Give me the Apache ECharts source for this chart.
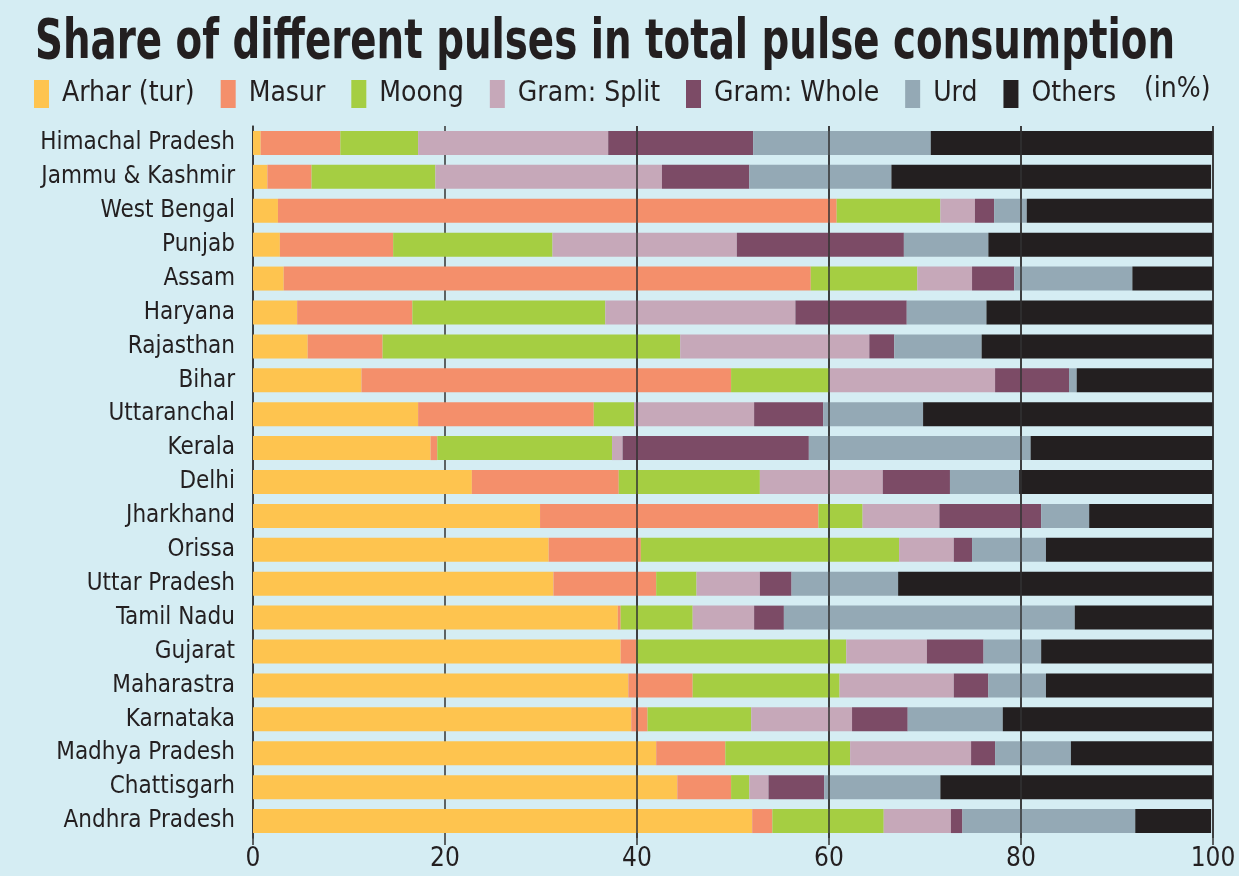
<!DOCTYPE html>
<html>
<head>
<meta charset="utf-8">
<script src="https://cdn.jsdelivr.net/npm/echarts@6/dist/echarts.min.js"></script>
<style>
  html, body { margin: 0; padding: 0; background: #d5edf3; }
  #chart { width: 1239px; height: 876px; }
</style>
</head>
<body>
<div id="chart"></div>
<script>
    // states, top to bottom
    var states = ['Himachal Pradesh', 'Jammu & Kashmir', 'West Bengal', 'Punjab', 'Assam', 'Haryana',
        'Rajasthan', 'Bihar', 'Uttaranchal', 'Kerala', 'Delhi', 'Jharkhand', 'Orissa', 'Uttar Pradesh',
        'Tamil Nadu', 'Gujarat', 'Maharastra', 'Karnataka', 'Madhya Pradesh', 'Chattisgarh', 'Andhra Pradesh'];

    // shares in %
    var arhar     = [0.8, 1.5, 2.6, 2.8, 3.2, 4.6, 5.7, 11.3, 17.2, 18.5, 22.8, 29.9, 30.8, 31.3, 38.0, 38.3, 39.1, 39.4, 42.0, 44.2, 52.0];
    var masur     = [8.3, 4.6, 58.2, 11.8, 54.9, 12.0, 7.8, 38.5, 18.3, 0.7, 15.3, 29.0, 9.6, 10.7, 0.3, 1.6, 6.7, 1.7, 7.2, 5.6, 2.1];
    var moong     = [8.1, 12.9, 10.8, 16.6, 11.1, 20.1, 31.0, 10.2, 4.2, 18.2, 14.7, 4.6, 26.9, 4.2, 7.5, 21.9, 15.3, 10.8, 13.0, 1.9, 11.6];
    var gramSplit = [19.8, 23.6, 3.6, 19.2, 5.7, 19.8, 19.7, 17.3, 12.5, 1.1, 12.8, 8.0, 5.7, 6.6, 6.4, 8.4, 11.9, 10.5, 12.6, 2.0, 7.0];
    var gramWhole = [15.1, 9.1, 2.0, 17.4, 4.4, 11.6, 2.6, 7.7, 7.2, 19.4, 7.0, 10.6, 1.9, 3.3, 3.1, 5.9, 3.6, 5.8, 2.5, 5.8, 1.2];
    var urd       = [18.5, 14.8, 3.4, 8.8, 12.3, 8.3, 9.1, 0.8, 10.4, 23.1, 7.2, 5.0, 7.7, 11.1, 30.3, 6.0, 6.0, 9.9, 7.9, 12.1, 18.0];
    var others    = [29.4, 33.3, 19.4, 23.4, 8.4, 23.6, 24.1, 14.2, 30.2, 19.0, 20.2, 12.9, 17.4, 32.8, 14.4, 17.9, 17.4, 21.9, 14.8, 28.4, 7.9];

    var names  = ['Arhar (tur)', 'Masur', 'Moong', 'Gram: Split', 'Gram: Whole', 'Urd', 'Others'];
    var colors = ['#fec44f', '#f48f6b', '#a5ce42', '#c6a8b9', '#7c4b66', '#94a9b5', '#231f20'];
    var values = [arhar, masur, moong, gramSplit, gramWhole, urd, others];

    var font = '"DejaVu Sans Condensed", "Liberation Sans", sans-serif';
    var ink = '#231f20';

    // title is a squeezed heavy face, fit it to the width of the original
    var titleText = 'Share of different pulses in total pulse consumption';
    var titleFont = 'bold 56px ' + font;
    var ctx = document.createElement('canvas').getContext('2d');
    ctx.font = titleFont;
    var titleScale = 1140 / ctx.measureText(titleText).width;

    var series = names.map(function (n, i) {
        var s = {
            name: n,
            type: 'bar',
            stack: 'total',
            barWidth: 24,
            data: values[i],
            itemStyle: { color: colors[i] },
            emphasis: { disabled: true }
        };
        if (i === names.length - 1) {
            // these gridlines sit on top of the bars
            s.markLine = {
                silent: true,
                symbol: ['none', 'none'],
                label: { show: false },
                lineStyle: { color: '#333', type: 'solid', width: 1.5 },
                data: [{ xAxis: 40 }, { xAxis: 60 }, { xAxis: 80 }, { xAxis: 100 }]
            };
        }
        return s;
    });

    var myChart = echarts.init(document.getElementById('chart'));
    myChart.setOption({
        backgroundColor: '#d5edf3',
        animation: false,
        legend: {
            left: 29,
            top: 75,
            itemWidth: 15,
            itemHeight: 28,
            itemGap: 26,
            icon: 'rect',
            data: names,
            textStyle: { fontFamily: font, fontSize: 28, color: ink, padding: [0, 0, 0, 8] }
        },
        graphic: [{
            type: 'text',
            x: 35,
            y: 15,
            scaleX: titleScale,
            style: { text: titleText, font: titleFont, fill: ink }
        }, {
            type: 'text',
            left: 1144,
            top: 76,
            style: { text: '(in%)', font: '28px ' + font, fill: ink }
        }],
        grid: { left: 253, right: 26, top: 126, bottom: 38 },
        xAxis: {
            type: 'value',
            min: 0,
            max: 100,
            interval: 20,
            axisLine: { show: false },
            axisTick: { show: true, length: 7, lineStyle: { color: '#333', width: 1.5 } },
            axisLabel: { fontFamily: font, fontSize: 26, color: ink, margin: 8 },
            splitLine: { show: true, lineStyle: { color: '#333', width: 1.5 } }
        },
        yAxis: {
            type: 'category',
            inverse: true,
            data: states,
            axisLine: { show: true, lineStyle: { color: '#333', width: 1.5 } },
            axisTick: { show: false },
            axisLabel: { fontFamily: font, fontSize: 24, color: ink, margin: 18 }
        },
        series: series
    });
</script>
</body>
</html>
